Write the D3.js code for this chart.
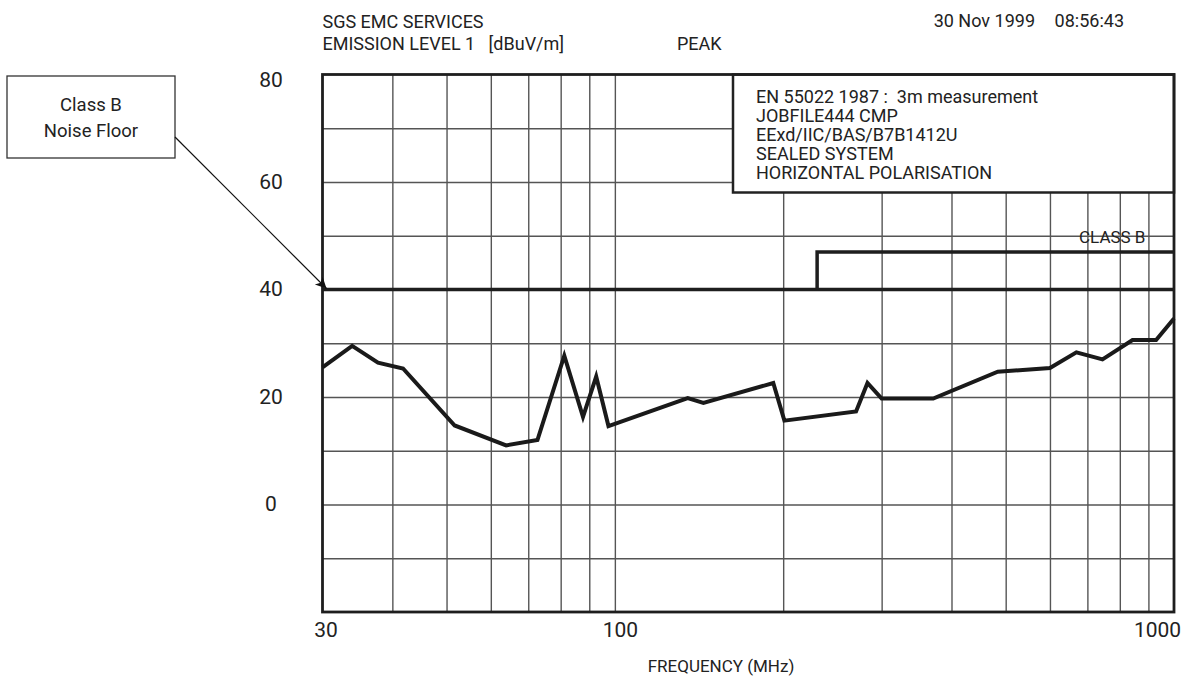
<!DOCTYPE html>
<html><head><meta charset="utf-8">
<script src="https://cdn.jsdelivr.net/npm/d3@7"></script>
<style>
html,body{margin:0;padding:0;background:#fff;}
svg{display:block;}
text{font-family:Roboto,"Liberation Sans",sans-serif;fill:#222;white-space:pre;}
</style></head><body>
<svg id="chart" width="1188" height="677"></svg>
<script>
// ---- data ----
const freqMHz = [30, 33.9, 37.7, 41.8, 51.7, 63.9, 72.7, 81.2, 87.7, 92.6, 97.4, 135, 144, 192, 201, 270, 283, 300, 371, 484, 600, 669, 745, 843, 929, 1000];
const levelDb = [25.5, 29.5, 26.4, 25.3, 14.7, 11.0, 12.0, 27.7, 16.3, 23.8, 14.6, 19.8, 18.9, 22.6, 15.6, 17.3, 22.6, 19.7, 19.7, 24.7, 25.4, 28.3, 27.0, 30.6, 30.6, 34.6];
const limitFreq = [230, 230, 1000];
const limitLevel = [40, 47, 47];
const floorFreq = [30, 1000];
const floorLevel = [40, 40];
const xTickValues = [30, 100, 1000];
const xGridValues = [40, 50, 60, 70, 80, 90, 100, 200, 300, 400, 500, 600, 700, 800, 900];
const yTickValues = [80, 60, 40, 20, 0];
const yGridValues = [-10, 0, 10, 20, 30, 40, 50, 60, 70];
const infoLines = ["EN 55022 1987 :  3m measurement", "JOBFILE444 CMP", "EExd/IIC/BAS/B7B1412U", "SEALED SYSTEM", "HORIZONTAL POLARISATION"];

// ---- layout ----
const L = 322.5, R = 1174, T = 74.5, B = 612;
const svg = d3.select("#chart");
svg.append("rect").attr("width",1188).attr("height",677).attr("fill","#fff");

const x = d3.scaleLog().domain([30, 1000]).range([L, R]);
const y = d3.scaleLinear().domain([-20, 80]).range([B, T]);

// grid
const gx = svg.append("g").attr("transform",`translate(0,${B})`)
  .call(d3.axisBottom(x).tickValues(xGridValues).tickSize(-(B-T)).tickFormat(""));
gx.select(".domain").remove();
gx.selectAll("line").attr("stroke","#555").attr("stroke-width",1.4);

const gy = svg.append("g").attr("transform",`translate(${L},0)`)
  .call(d3.axisLeft(y).tickValues(yGridValues).tickSize(-(R-L)).tickFormat(""));
gy.select(".domain").remove();
gy.selectAll("line").attr("stroke","#555").attr("stroke-width",1.4);

// info box
const bx = 733, by = T, bw = R - 733, bh = 118;
svg.append("rect").attr("x",bx).attr("y",by).attr("width",bw).attr("height",bh)
  .attr("fill","#fff").attr("stroke","#222").attr("stroke-width",2.5);
svg.append("g").selectAll("text").data(infoLines).join("text")
  .attr("x", 756).attr("y",(d,i)=>103 + i*19)
  .attr("font-size",18).text(d=>d);

// frame
svg.append("rect").attr("x",L).attr("y",T).attr("width",R-L).attr("height",B-T)
  .attr("fill","none").attr("stroke","#1e1e1e").attr("stroke-width",2.8);

// limit lines
const line = d3.line().x(d=>x(d[0])).y(d=>y(d[1])).curve(d3.curveLinear);
svg.append("path").datum(d3.zip(floorFreq, floorLevel)).attr("d",line)
  .attr("fill","none").attr("stroke","#1e1e1e").attr("stroke-width",3.5);
svg.append("path").datum(d3.zip(limitFreq, limitLevel)).attr("d",line)
  .attr("fill","none").attr("stroke","#1e1e1e").attr("stroke-width",3.5);

svg.append("text").attr("x",1079).attr("y",243).attr("font-size",17).text("CLASS B");

// measured curve
svg.append("path").datum(d3.zip(freqMHz, levelDb)).attr("d",line)
  .attr("fill","none").attr("stroke","#1a1a1a").attr("stroke-width",4)
  .attr("stroke-linejoin","miter");

// tick labels
const xl = svg.append("g").attr("transform",`translate(0,${B})`)
  .call(d3.axisBottom(x).tickValues(xTickValues).tickSize(0).tickPadding(10).tickFormat(d3.format("d")));
xl.select(".domain").remove();
xl.selectAll("text").attr("font-family","'Open Sans',sans-serif").attr("font-size",21).attr("fill","#222")
  .attr("dx",(d)=> d===1000 ? -17 : (d===100 ? 5 : 3));

const yl = svg.append("g").attr("transform",`translate(${L},0)`)
  .call(d3.axisLeft(y).tickValues(yTickValues).tickSize(0).tickFormat(d3.format("d")));
yl.select(".domain").remove();
yl.selectAll("text").attr("font-family","'Open Sans',sans-serif").attr("font-size",21).attr("fill","#222")
  .attr("text-anchor","middle").attr("x", 271 - L)
  .attr("dy",(d)=> d===80 ? "0.55em" : "0.3em");

// header
svg.append("text").attr("x",322.5).attr("y",28).attr("font-size",18).text("SGS EMC SERVICES");
svg.append("text").attr("x",322.5).attr("y",50).attr("font-size",18).text("EMISSION LEVEL 1   [dBuV/m]");
svg.append("text").attr("x",677).attr("y",50).attr("font-size",18).text("PEAK");
svg.append("text").attr("x",1035).attr("y",27).attr("font-size",18).attr("text-anchor","end").text("30 Nov 1999");
svg.append("text").attr("x",1124).attr("y",27).attr("font-size",18).attr("text-anchor","end").text("08:56:43");

// x axis title
svg.append("text").attr("x",721).attr("y",672).attr("font-size",17).attr("text-anchor","middle").text("FREQUENCY (MHz)");

// annotation box + arrow
svg.append("rect").attr("x",7).attr("y",76).attr("width",168).attr("height",82)
  .attr("fill","#fff").attr("stroke","#333").attr("stroke-width",1.3);
svg.append("text").attr("x",91).attr("y",111).attr("font-size",18.5).attr("text-anchor","middle").text("Class B");
svg.append("text").attr("x",91).attr("y",137).attr("font-size",18.5).attr("text-anchor","middle").text("Noise Floor");

svg.append("defs").append("marker").attr("id","arr").attr("viewBox","0 0 10 10")
  .attr("refX",10).attr("refY",5).attr("markerWidth",17).attr("markerHeight",11)
  .attr("markerUnits","userSpaceOnUse").attr("orient","auto")
  .append("path").attr("d","M0,0 L10,5 L0,10 L2.5,5 Z").attr("fill","#111");
svg.append("line").attr("x1",175).attr("y1",137).attr("x2",x(30)+4).attr("y2",y(40)-1)
  .attr("stroke","#111").attr("stroke-width",1.2).attr("marker-end","url(#arr)");
</script>
</body></html>
